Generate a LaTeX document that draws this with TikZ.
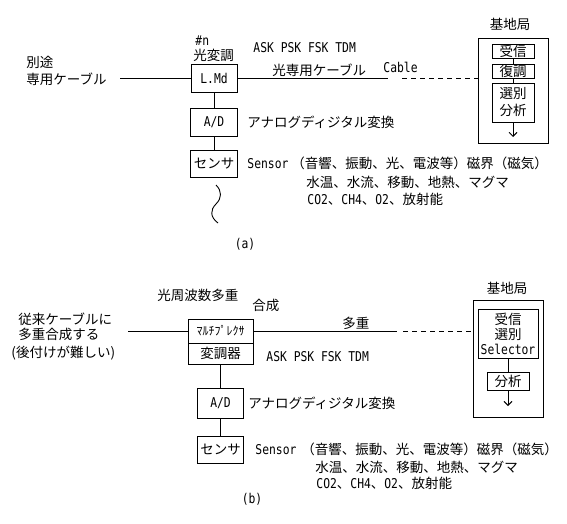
\documentclass[tikz,border=0pt]{standalone}
\usepackage{fontspec}
\setmainfont{Noto Sans CJK JP}
\newfontfamily\lat{DejaVu Sans Mono}[FakeStretch=0.84]
\newcommand\latx[1]{{\lat\fontsize{13.5pt}{15pt}\selectfont #1}}
\usetikzlibrary{arrows.meta}
\begin{document}
\begin{tikzpicture}[x=1pt,y=-1pt,
  font=\fontsize{13.5pt}{17pt}\selectfont, line width=0.9pt,
  txt/.style={inner sep=0pt, anchor=base west},
  box/.style={draw, inner sep=0pt, align=center},
  arr/.style={-{Straight Barb[length=4pt,width=8pt]}},
  dsh/.style={dash pattern=on 5pt off 4pt}]
\useasboundingbox (0,0) rectangle (567,523);

% ---------------- (a) ----------------
\node[txt] (ta1) at (26,67) {別途};
\node[txt] (ta2) at (26,84) {専用ケーブル};
\node[box, minimum width=46pt, minimum height=28pt] (lmd) at (214,78) {\latx{L.Md}};
\coordinate (c1) at (120,78);
\draw (c1) -- (lmd);
\node[txt] (tn) at (195,45) {\latx{\#n}};
\node[txt] (tkh) at (193,60) {光変調};
\node[txt] (task1) at (253,52) {\latx{ASK PSK FSK TDM}};
\node[txt] (tkc) at (272,75) {光専用ケーブル};
\coordinate (c2) at (388,78);
\draw (lmd) -- (c2);
\node[txt] (tcab) at (383,72) {\latx{Cable}};

\node[box, minimum width=47pt, minimum height=28pt] (ad1) at (214,122) {\latx{A/D}};
\draw (lmd) -- (ad1);
\node[txt] (tad1) at (247,127) {アナログディジタル変換};
\node[box, minimum width=47pt, minimum height=27pt] (se1) at (214,163.5) {センサ};
\draw (ad1) -- (se1);
\node[txt] (tsen1) at (247,168) {\latx{Sensor}};
\node[txt] (tl11) at (291,168) {（音響、振動、光、電波等）磁界（磁気）};
\node[txt] (tl12) at (306,187) {水温、水流、移動、地熱、マグマ};
\node[txt] (tl13) at (307,204) {\latx{CO2}、\latx{CH4}、\latx{O2}、放射能};
\coordinate (w1) at (216,185);
\coordinate (wm) at (216,204);
\coordinate (w2) at (218,223);
\draw (w1) .. controls (222,191) and (222,198) .. (wm) .. controls (210,210) and (210,217) .. (w2);
\node (la) at (245,244) {\latx{(a)}};

\node (bt1) at (510,24) {基地局};
\node[draw, inner sep=0pt, minimum width=70pt, minimum height=105pt] (bs1) at (513,90.5) {};
\node[box, minimum width=42pt, minimum height=14pt] (r1) at (513,51) {受信};
\node[box, minimum width=42pt, minimum height=14pt] (r2) at (513,71) {復調};
\node[box, minimum width=42pt, minimum height=39pt] (r3) at (513,102.5) {選別\\分析};
\draw (r1) -- (r2);
\draw (r2) -- (r3);
\coordinate (a1end) at (513,137);
\draw[arr] (r3) -- (a1end);
\coordinate (c3) at (402,78);
\draw[dsh] (c3) -- (c3 -| bs1.west);

% ---------------- (b) ----------------
\node[txt] (tb1) at (18,324) {従来ケーブルに};
\node[txt] (tb2) at (18,339) {多重合成する};
\node[txt] (tb3) at (11,357) {(後付けが難しい)};
\node[box, minimum width=65pt, minimum height=24pt] (mux) at (220.5,331) {\fontsize{12pt}{12pt}\selectfont ﾏﾙﾁﾌﾟﾚｸｻ};
\node[box, minimum width=65pt, minimum height=21pt] (mod) at (220.5,353.5) {変調器};
\coordinate (c4) at (128,331);
\draw (c4) -- (mux);
\coordinate (c5) at (397,331);
\draw (mux) -- (c5);
\node[txt] (tkf) at (157,300) {光周波数多重};
\node[txt] (tgs) at (252,310) {合成};
\node[txt] (ttj) at (342,328) {多重};
\node[txt] (task2) at (266,361) {\latx{ASK PSK FSK TDM}};

\node[box, minimum width=46pt, minimum height=30pt] (ad2) at (220.5,403) {\latx{A/D}};
\draw (mod) -- (ad2);
\node[txt] (tad2) at (248,408) {アナログディジタル変換};
\node[box, minimum width=46pt, minimum height=27pt] (se2) at (220.5,449.5) {センサ};
\draw (ad2) -- (se2);
\node[txt] (tsen2) at (255,454) {\latx{Sensor}};
\node[txt] (tl21) at (301,454) {（音響、振動、光、電波等）磁界（磁気）};
\node[txt] (tl22) at (315,472) {水温、水流、移動、地熱、マグマ};
\node[txt] (tl23) at (316,488) {\latx{CO2}、\latx{CH4}、\latx{O2}、放射能};
\node (lb) at (252,499) {\latx{(b)}};

\node (bt2) at (507,288) {基地局};
\node[draw, inner sep=0pt, minimum width=70pt, minimum height=117pt] (bs2) at (508,358.5) {};
\node[box, minimum width=60pt, minimum height=49pt, font=\fontsize{13.5pt}{15pt}\selectfont] (rs) at (508,333.5) {受信\\選別\\\latx{Selector}};
\node[box, minimum width=42pt, minimum height=18pt] (an) at (508,381) {分析};
\draw (rs) -- (an);
\coordinate (a2end) at (508,406);
\draw[arr] (an) -- (a2end);
\coordinate (c6) at (403,331);
\draw[dsh] (c6) -- (c6 -| bs2.west);
\end{tikzpicture}
\end{document}
